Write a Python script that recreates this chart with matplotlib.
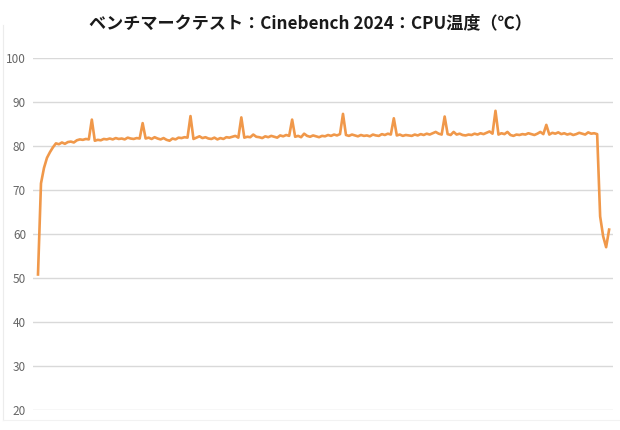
import matplotlib
matplotlib.use('Agg')
import matplotlib.pyplot as plt
from matplotlib.lines import Line2D

plt.rcParams['font.family'] = ['Noto Sans CJK JP', 'DejaVu Sans']

title = 'ベンチマークテスト：Cinebench 2024：CPU温度（℃）'
yticks = [20, 30, 40, 50, 60, 70, 80, 90, 100]

# CPU temperature samples (deg C)
temps = [
    50.8, 71.5, 75.0, 77.3, 78.6, 79.7, 80.6,
    80.4, 80.8, 80.5, 80.9, 81.0, 80.8, 81.3, 81.5, 81.4, 81.6, 81.5,
    86.0,
    81.2, 81.4, 81.3, 81.6, 81.5, 81.7, 81.5, 81.8, 81.6, 81.7, 81.5, 81.9, 81.7, 81.6, 81.8, 81.7,
    85.2,
    81.7, 81.9, 81.6, 82.0, 81.7, 81.5, 81.8, 81.4, 81.2, 81.7, 81.5, 81.9, 81.8, 82.0, 81.9,
    86.8,
    81.6, 81.9, 82.2, 81.8, 82.0, 81.7, 81.6, 81.9, 81.5, 81.8, 81.6, 82.0, 81.9, 82.1, 82.3, 81.9,
    86.5,
    81.9, 82.1, 82.0, 82.6, 82.1, 82.0, 81.8, 82.2, 82.0, 82.3, 82.1, 81.9, 82.4, 82.2, 82.5, 82.3,
    86.0,
    82.1, 82.3, 82.0, 82.8, 82.3, 82.1, 82.4, 82.2, 82.0, 82.3, 82.2, 82.5, 82.3, 82.6, 82.4, 82.7,
    87.3,
    82.5, 82.3, 82.6, 82.4, 82.2, 82.5, 82.3, 82.4, 82.2, 82.6, 82.4, 82.3, 82.7, 82.5, 82.8, 82.6,
    86.3,
    82.4, 82.6, 82.3, 82.5, 82.4, 82.3, 82.6, 82.4, 82.7, 82.5, 82.8, 82.6, 82.9, 83.2, 82.8, 82.6,
    86.7,
    82.7, 82.5, 83.2, 82.6, 82.8, 82.5, 82.4, 82.6, 82.5, 82.8, 82.6, 82.9, 82.7, 83.0, 83.3, 82.8,
    88.0,
    82.6, 82.9, 82.7, 83.2, 82.5, 82.3, 82.6, 82.5, 82.7, 82.6, 82.9, 82.7, 82.5, 82.8, 83.2, 82.7,
    84.8,
    82.6, 83.0, 82.8, 83.1, 82.7, 82.9, 82.6, 82.8, 82.5, 82.7, 83.0, 82.8, 82.6, 83.1, 82.8, 82.9, 82.7,
    64.0, 59.5, 57.0, 61.0,
]
samples = list(range(len(temps)))

fig = plt.figure(figsize=(6.2, 4.3), dpi=100)
ax = fig.add_axes([33 / 620, 1 - 410 / 430, 580 / 620, 352 / 430])

ax.plot(samples, temps, color='#F0984A', linewidth=1.9, solid_joinstyle='round')

ax.set_ylim(20, 100)
ax.set_xlim(-1.67, 192.3)
ax.set_yticks(yticks)
ax.set_xticks([])
ax.grid(axis='y', color='#d9d9d9', linewidth=1.0)
ax.set_axisbelow(True)
for s in ax.spines.values():
    s.set_visible(False)
ax.tick_params(axis='y', length=0, pad=5, labelsize=8.5, labelcolor='#666666')

fig.text(0.5, 1 - 23 / 430, title, ha='center', va='center',
         fontsize=12.3, fontweight='bold', color='#1a1a1a')

# faint chart-area border on the left/bottom
fig.add_artist(Line2D([3 / 620, 3 / 620], [1 - 420 / 430, 1 - 25 / 430],
                      transform=fig.transFigure, color='#ececec', linewidth=0.8))
fig.add_artist(Line2D([3 / 620, 1], [1 - 420 / 430, 1 - 420 / 430],
                      transform=fig.transFigure, color='#f2f2f2', linewidth=0.8))

fig.savefig('out.png', dpi=100, facecolor='white')
